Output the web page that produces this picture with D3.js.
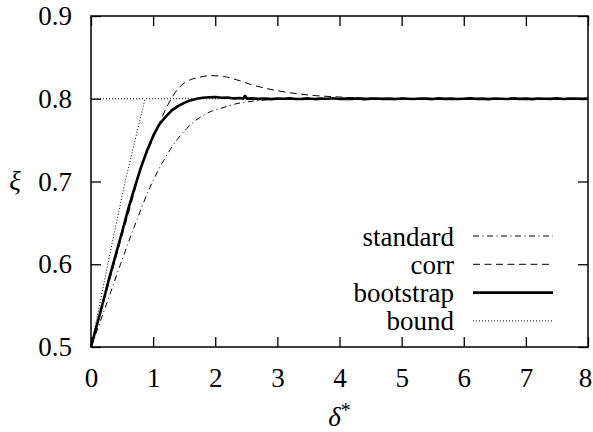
<!doctype html>
<html>
<head>
<meta charset="utf-8">
<style>
  body { margin: 0; background: #fff; }
  svg text { font-family: "Liberation Serif", "Times New Roman", serif; fill: #000; }
</style>
<script src="https://d3js.org/d3.v7.min.js"></script>
</head>
<body>
<svg width="593" height="432"></svg>
<script>
// --- data ---
var xTicks = [0, 1, 2, 3, 4, 5, 6, 7, 8];
var yTicks = [0.5, 0.6, 0.7, 0.8, 0.9];
var seriesNames = ["standard", "corr", "bootstrap", "bound"];

var stdX = [0, 0.25, 0.475, 0.7, 0.95, 1.1, 1.27, 1.4, 1.54, 1.67, 1.81, 1.94, 2.07, 2.2, 2.34, 2.5, 2.7, 2.9, 3.1, 3.4, 8];
var stdY = [0.5, 0.552, 0.6, 0.646, 0.693, 0.716, 0.738, 0.752, 0.764, 0.773, 0.780, 0.785, 0.788, 0.791, 0.794, 0.796, 0.798, 0.7992, 0.7997, 0.8, 0.8];

var corrX = [0, 0.2, 0.4, 0.6, 0.7, 0.8, 0.9, 1.0, 1.1, 1.2, 1.3, 1.4, 1.5, 1.6, 1.75, 1.91, 2.13, 2.34, 2.56, 2.82, 3.09, 3.36, 3.63, 3.9, 4.2, 4.6, 5.0, 8];
var corrY = [0.5, 0.554, 0.608, 0.661, 0.688, 0.716, 0.734, 0.752, 0.770, 0.787, 0.801, 0.812, 0.819, 0.823, 0.826, 0.828, 0.827, 0.823, 0.8175, 0.8125, 0.8085, 0.8057, 0.8037, 0.8025, 0.8013, 0.8005, 0.8001, 0.8];

var bootX = [0, 0.1, 0.2, 0.3, 0.4, 0.5, 0.6, 0.7, 0.8, 0.9, 1.0, 1.1, 1.2, 1.3, 1.4, 1.5, 1.6, 1.7, 1.8, 1.9,
             2.0, 2.1, 2.2, 2.3, 2.4, 2.45, 2.48, 2.51, 2.6, 2.7, 2.8, 2.9,
             3.0, 3.1, 3.2, 3.3, 3.4, 3.5, 3.6, 3.7, 3.8, 3.9,
             4.0, 4.1, 4.2, 4.3, 4.4, 4.5, 4.6, 4.7, 4.8, 4.9,
             5.0, 5.1, 5.2, 5.3, 5.4, 5.5, 5.6, 5.7, 5.8, 5.9,
             6.0, 6.1, 6.2, 6.3, 6.4, 6.5, 6.6, 6.7, 6.8, 6.9,
             7.0, 7.1, 7.2, 7.3, 7.4, 7.5, 7.6, 7.7, 7.8, 7.9, 8.0];
var bootY = [0.5, 0.528, 0.556, 0.585, 0.612, 0.639, 0.667, 0.692, 0.716, 0.737, 0.755, 0.769, 0.778, 0.786, 0.791, 0.795, 0.798, 0.800, 0.8012, 0.8018,
             0.8022, 0.8012, 0.8016, 0.8004, 0.8009, 0.8002, 0.8035, 0.8002, 0.8004, 0.7998, 0.8001, 0.7995,
             0.8003, 0.8, 0.8005, 0.7997, 0.7999, 0.8004, 0.7996, 0.8002, 0.8, 0.8006,
             0.7997, 0.8001, 0.7999, 0.8004, 0.7995, 0.8002, 0.8003, 0.7998, 0.8001, 0.7996,
             0.8004, 0.8, 0.7997, 0.8003, 0.8001, 0.7996, 0.8005, 0.7999, 0.8002, 0.7997,
             0.8, 0.8004, 0.7998, 0.8002, 0.7996, 0.8003, 0.8, 0.7997, 0.8004, 0.7999,
             0.8001, 0.7996, 0.8003, 0.8, 0.7998, 0.8004, 0.7997, 0.8001, 0.8003, 0.7998, 0.8001];

var boundX = [0, 0.27, 0.55, 0.87, 8];
var boundY = [0.5, 0.6, 0.7, 0.8, 0.8];
var target = 0.8;

var svg = d3.select("svg");
var mLeft = 91, mRight = 588, mTop = 16, mBottom = 347;

var x = d3.scaleLinear().domain([0, 8]).range([mLeft, mRight]);
var y = d3.scaleLinear().domain([0.5, 0.9]).range([mBottom, mTop]);

var fontSize = "27px";

// axes, ticks pointing inward on all four sides
var gx = svg.append("g").attr("transform", "translate(0," + mBottom + ")")
    .call(d3.axisBottom(x).tickValues(xTicks).tickSize(-10).tickPadding(21).tickFormat(d3.format("d")));
var gy = svg.append("g").attr("transform", "translate(" + mLeft + ",0)")
    .call(d3.axisLeft(y).tickValues(yTicks).tickSize(-10).tickPadding(19).tickFormat(d3.format(".1f")));
var gt = svg.append("g").attr("transform", "translate(0," + mTop + ")")
    .call(d3.axisTop(x).tickValues(xTicks).tickSize(-10).tickFormat(""));
var gr = svg.append("g").attr("transform", "translate(" + mRight + ",0)")
    .call(d3.axisRight(y).tickValues(yTicks).tickSize(-10).tickFormat(""));

[gx, gy, gt, gr].forEach(function(g) {
  g.attr("font-family", null).attr("font-size", null);
  g.select(".domain").remove();
  g.selectAll(".tick line").attr("stroke", "#000").attr("stroke-width", 1.3);
  g.selectAll(".tick text").style("font-size", fontSize);
});
// last label sits at the page edge
gx.selectAll(".tick text").filter(function(d) { return d === 8; }).attr("dx", -3);

// frame
svg.append("rect")
   .attr("x", mLeft).attr("y", mTop)
   .attr("width", mRight - mLeft).attr("height", mBottom - mTop)
   .attr("fill", "none").attr("stroke", "#000").attr("stroke-width", 1.5);

function zip(xs, ys) { return xs.map(function(v, i) { return [v, ys[i]]; }); }

var smooth = d3.line().x(function(d) { return x(d[0]); }).y(function(d) { return y(d[1]); }).curve(d3.curveMonotoneX);
var straight = d3.line().x(function(d) { return x(d[0]); }).y(function(d) { return y(d[1]); });

var styles = {
  standard:  { dash: "6,3.5,1,3.5", width: 1 },
  corr:      { dash: "7,4.5", width: 1 },
  bootstrap: { dash: null, width: 2.6 },
  bound:     { dash: "1,2", width: 1 }
};

var plot = svg.append("g");

// target level drawn with the bound style
plot.append("path")
    .attr("d", straight([[0, target], [boundX[3], target]]))
    .attr("fill", "none").attr("stroke", "#000")
    .attr("stroke-width", styles.bound.width).attr("stroke-dasharray", styles.bound.dash);

plot.append("path").attr("d", straight(zip(boundX, boundY)))
    .attr("fill", "none").attr("stroke", "#000")
    .attr("stroke-width", styles.bound.width).attr("stroke-dasharray", styles.bound.dash);

plot.append("path").attr("d", smooth(zip(stdX, stdY)))
    .attr("fill", "none").attr("stroke", "#000")
    .attr("stroke-width", styles.standard.width).attr("stroke-dasharray", styles.standard.dash);

plot.append("path").attr("d", smooth(zip(corrX, corrY)))
    .attr("fill", "none").attr("stroke", "#000")
    .attr("stroke-width", styles.corr.width).attr("stroke-dasharray", styles.corr.dash);

plot.append("path").attr("d", straight(zip(bootX, bootY)))
    .attr("fill", "none").attr("stroke", "#000")
    .attr("stroke-width", styles.bootstrap.width).attr("stroke-linejoin", "round");

// legend
var legend = svg.append("g");
seriesNames.forEach(function(name, i) {
  var ly = 236 + i * 28.3;
  legend.append("text")
        .attr("x", 454).attr("y", ly + 9.5)
        .attr("text-anchor", "end")
        .style("font-size", fontSize)
        .text(name);
  legend.append("line")
        .attr("x1", 473).attr("x2", 553)
        .attr("y1", ly).attr("y2", ly)
        .attr("stroke", "#000")
        .attr("stroke-width", styles[name].width)
        .attr("stroke-dasharray", styles[name].dash);
});

// axis titles
svg.append("text")
   .attr("x", 15).attr("y", 190)
   .attr("text-anchor", "middle")
   .style("font-size", fontSize).style("font-style", "italic")
   .text("ξ");

var xt = svg.append("text")
   .attr("x", (mLeft + mRight) / 2).attr("y", 426)
   .attr("text-anchor", "middle")
   .style("font-size", fontSize);
xt.append("tspan").style("font-style", "italic").text("δ");
xt.append("tspan").attr("dy", -9).style("font-size", "20px").text("*");
</script>
</body>
</html>
